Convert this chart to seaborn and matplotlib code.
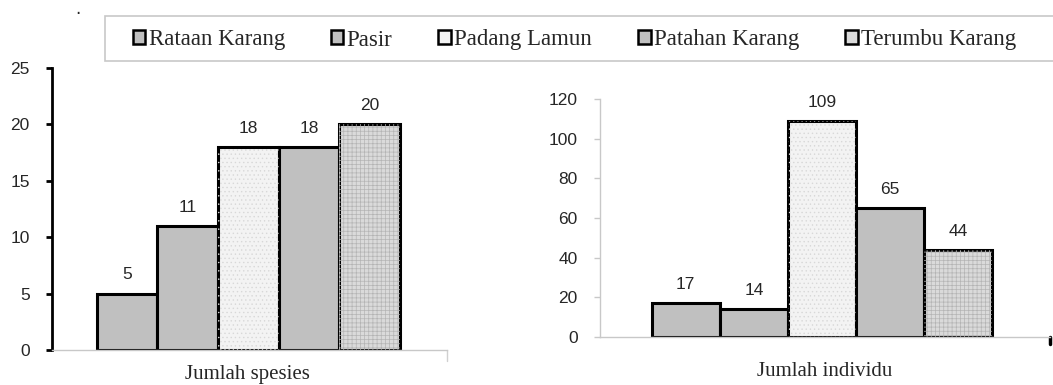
import matplotlib
matplotlib.use("Agg")
import matplotlib.pyplot as plt
from matplotlib.patches import Rectangle, Patch
import seaborn as sns
import pandas as pd

categories = ["Rataan Karang", "Pasir", "Padang Lamun", "Patahan Karang", "Terumbu Karang"]
species = [5, 11, 18, 18, 20]
individuals = [17, 14, 109, 65, 44]
left_xlabel = "Jumlah spesies"
right_xlabel = "Jumlah individu"

fills = ["#c0c0c0", "#c0c0c0", "#f3f3f3", "#c0c0c0", "#dadada"]
hatches = [None, None, "....", None, "++++"]
hatch_cols = [None, None, "#d8d8d8", None, "#b4b4b4"]

sns.set_style("white")
plt.rcParams["hatch.linewidth"] = 0.5
sans = ["Liberation Sans", "DejaVu Sans"]
serif = ["Liberation Serif", "DejaVu Serif"]

W, H = 1053, 385
fig = plt.figure(figsize=(W / 100, H / 100), dpi=100)

def px_axes(x0, x1, ytop, ybot):
    return fig.add_axes([x0 / W, (H - ybot) / H, (x1 - x0) / W, (ybot - ytop) / H])

axL = px_axes(52, 447, 68, 350)
axR = px_axes(600, 1050, 99, 337)

def draw(ax, values, ylim, yticks, xlim, spine_color, spine_lw, tick_color):
    df = pd.DataFrame({"cat": categories, "val": values})
    sns.barplot(data=df, x="cat", y="val", hue="cat", palette=fills, order=categories,
                hue_order=categories, width=1.0, dodge=False, legend=False, ax=ax,
                edgecolor="black", linewidth=2.2)
    bars = list(ax.patches)
    for bar, h, hc in zip(bars, hatches, hatch_cols):
        if h:
            if hasattr(bar, "set_hatchcolor"):
                bar.set_hatch(h)
                bar.set_hatchcolor(hc)
            else:
                over = Rectangle(bar.get_xy(), bar.get_width(), bar.get_height(),
                                 facecolor="none", edgecolor=hc, hatch=h, linewidth=0)
                ax.add_patch(over)
    for cont in ax.containers:
        ax.bar_label(cont, fmt="%d", padding=8, fontsize=12.5, family=sans)
    ax.set_ylim(*ylim)
    ax.set_yticks(yticks)
    ax.set_xlim(*xlim)
    ax.set_xticks([])
    ax.set_xlabel("")
    ax.set_ylabel("")
    for s in ["top", "right"]:
        ax.spines[s].set_visible(False)
    ax.spines["bottom"].set_color("#c8c8c8")
    ax.spines["bottom"].set_linewidth(1.0)
    ax.spines["left"].set_color(spine_color)
    ax.spines["left"].set_linewidth(spine_lw)
    ax.tick_params(axis="y", direction="out", length=4, width=spine_lw, color=tick_color,
                   labelsize=12.5, pad=12, left=True)
    for t in ax.get_yticklabels():
        t.set_family(sans)
    ax.patch.set_alpha(0)

draw(axL, species, (0, 25), range(0, 26, 5), (-1.24, 5.28), "black", 2.0, "black")
draw(axR, individuals, (0, 120), range(0, 121, 20), (-1.26, 5.35), "#c8c8c8", 1.0, "#c8c8c8")

# small end marks on the x axes
axR.plot([1.0, 1.0], [0, -0.03], transform=axR.transAxes, color="black", lw=2.5, clip_on=False)
axL.plot([1.0, 1.0], [0, -0.04], transform=axL.transAxes, color="#d0d0d0", lw=1, clip_on=False)

# legend box
fig.patches.append(Rectangle((105 / W, (H - 61) / H), (W - 100) / W, 45 / H,
                             transform=fig.transFigure, facecolor="white",
                             edgecolor="#c8c8c8", linewidth=1.2, zorder=0))
handles = [Patch(facecolor=c, edgecolor="black", linewidth=1.8) for c in fills]
leg = fig.legend(handles, categories, ncol=5, loc="center left",
                 bbox_to_anchor=(112 / W, (H - 40) / H), frameon=False,
                 handlelength=0.55, handleheight=0.55, handletextpad=0.15,
                 columnspacing=2.0, prop={"family": serif, "size": 16.5})

fig.text(78 / W, (H - 9) / H, ".", fontsize=12, ha="center", va="center")
fig.text(825 / W, (H - 372) / H, right_xlabel, family=serif, fontsize=15,
         ha="center", va="center")
fig.text(247 / W, (H - 374) / H, left_xlabel, family=serif, fontsize=15,
         ha="center", va="center")

fig.savefig("out.png", dpi=100)
